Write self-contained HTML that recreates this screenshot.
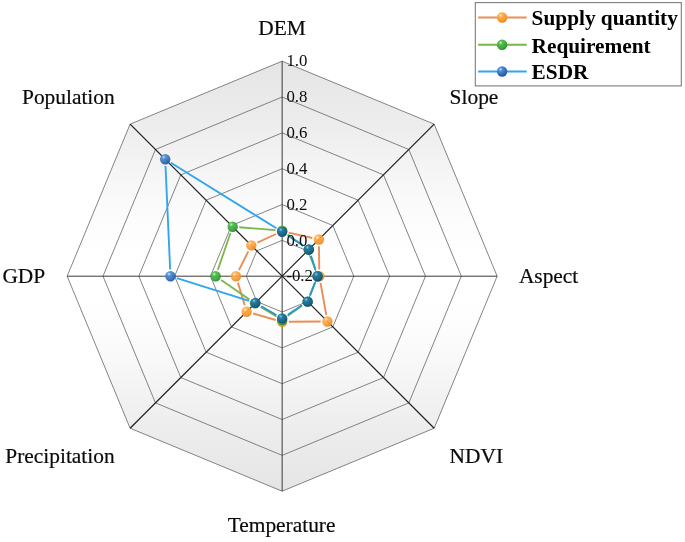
<!DOCTYPE html>
<html><head><meta charset="utf-8"><title>Radar chart</title>
<style>
html,body{margin:0;padding:0;background:#fff;}
body{width:685px;height:542px;overflow:hidden;}
svg{display:block;}
text{font-family:"Liberation Serif",serif;fill:#0a0a0a;}
.lab{font-size:21.4px;stroke:#0a0a0a;stroke-width:0.2px;}
.tick{font-size:16.8px;}
.leg{font-size:21.3px;font-weight:bold;fill:#000;}
</style></head><body>
<svg width="685" height="542" viewBox="0 0 685 542">
<defs>
<linearGradient id="bg" x1="0" y1="0" x2="0" y2="1">
<stop offset="0.0000" stop-color="#e5e5e5"/>
<stop offset="0.1500" stop-color="#ededed"/>
<stop offset="0.2435" stop-color="#f4f4f4"/>
<stop offset="0.3270" stop-color="#fafafa"/>
<stop offset="0.3690" stop-color="#fcfcfc"/>
<stop offset="0.4200" stop-color="#fefefe"/>
<stop offset="0.4600" stop-color="#ffffff"/>
<stop offset="0.5400" stop-color="#ffffff"/>
<stop offset="0.5800" stop-color="#fefefe"/>
<stop offset="0.6310" stop-color="#fcfcfc"/>
<stop offset="0.6730" stop-color="#fafafa"/>
<stop offset="0.7565" stop-color="#f4f4f4"/>
<stop offset="0.8500" stop-color="#ededed"/>
<stop offset="1.0000" stop-color="#e5e5e5"/>
</linearGradient>
<radialGradient id="bo" cx="0.36" cy="0.30" r="0.72">
<stop offset="0" stop-color="#fff0d6"/><stop offset="0.25" stop-color="#ffae4c"/><stop offset="0.8" stop-color="#f7932a"/><stop offset="1" stop-color="#e8841f"/>
</radialGradient>
<radialGradient id="bgr" cx="0.36" cy="0.30" r="0.72">
<stop offset="0" stop-color="#d4f5cc"/><stop offset="0.25" stop-color="#55be4f"/><stop offset="0.8" stop-color="#35a238"/><stop offset="1" stop-color="#278a2b"/>
</radialGradient>
<radialGradient id="bb" cx="0.36" cy="0.30" r="0.72">
<stop offset="0" stop-color="#cfe4fa"/><stop offset="0.25" stop-color="#4f8dd2"/><stop offset="0.8" stop-color="#2b66b0"/><stop offset="1" stop-color="#1f5296"/>
</radialGradient>
<radialGradient id="bd" cx="0.36" cy="0.30" r="0.72">
<stop offset="0" stop-color="#8fc8ea"/><stop offset="0.25" stop-color="#2477a8"/><stop offset="0.8" stop-color="#155a86"/><stop offset="1" stop-color="#0f4a70"/>
</radialGradient>
</defs>
<rect width="685" height="542" fill="#fff"/>

<polygon points="282.15,61.20 434.18,124.17 497.15,276.20 434.18,428.23 282.15,491.20 130.12,428.23 67.15,276.20 130.12,124.17" fill="url(#bg)" stroke="none"/>
<polygon points="282.15,240.37 307.49,250.86 317.98,276.20 307.49,301.54 282.15,312.03 256.81,301.54 246.32,276.20 256.81,250.86" fill="none" stroke="#5c5c5c" stroke-width="0.75"/>
<polygon points="282.15,204.53 332.83,225.52 353.82,276.20 332.83,326.88 282.15,347.87 231.47,326.88 210.48,276.20 231.47,225.52" fill="none" stroke="#5c5c5c" stroke-width="0.75"/>
<polygon points="282.15,168.70 358.16,200.19 389.65,276.20 358.16,352.21 282.15,383.70 206.14,352.21 174.65,276.20 206.14,200.19" fill="none" stroke="#5c5c5c" stroke-width="0.75"/>
<polygon points="282.15,132.87 383.50,174.85 425.48,276.20 383.50,377.55 282.15,419.53 180.80,377.55 138.82,276.20 180.80,174.85" fill="none" stroke="#5c5c5c" stroke-width="0.75"/>
<polygon points="282.15,97.03 408.84,149.51 461.32,276.20 408.84,402.89 282.15,455.37 155.46,402.89 102.98,276.20 155.46,149.51" fill="none" stroke="#5c5c5c" stroke-width="0.75"/>
<polygon points="282.15,61.20 434.18,124.17 497.15,276.20 434.18,428.23 282.15,491.20 130.12,428.23 67.15,276.20 130.12,124.17" fill="none" stroke="#5c5c5c" stroke-width="0.75"/>
<line x1="282.15" y1="276.20" x2="282.15" y2="61.20" stroke="#3a3a3a" stroke-width="1.0"/>
<line x1="282.15" y1="276.20" x2="434.18" y2="124.17" stroke="#1e1e1e" stroke-width="1.2"/>
<line x1="282.15" y1="276.20" x2="497.15" y2="276.20" stroke="#3a3a3a" stroke-width="1.0"/>
<line x1="282.15" y1="276.20" x2="434.18" y2="428.23" stroke="#1e1e1e" stroke-width="1.2"/>
<line x1="282.15" y1="276.20" x2="282.15" y2="491.20" stroke="#3a3a3a" stroke-width="1.0"/>
<line x1="282.15" y1="276.20" x2="130.12" y2="428.23" stroke="#1e1e1e" stroke-width="1.2"/>
<line x1="282.15" y1="276.20" x2="67.15" y2="276.20" stroke="#3a3a3a" stroke-width="1.0"/>
<line x1="282.15" y1="276.20" x2="130.12" y2="124.17" stroke="#1e1e1e" stroke-width="1.2"/>
<line x1="288.68" y1="232.68" x2="312.31" y2="238.02" stroke="#ea8e55" stroke-width="1.9"/>
<line x1="318.94" y1="246.20" x2="319.26" y2="269.50" stroke="#ea8e55" stroke-width="1.9"/>
<line x1="320.52" y1="282.80" x2="326.23" y2="314.86" stroke="#ea8e55" stroke-width="1.9"/>
<line x1="320.71" y1="321.51" x2="288.85" y2="321.75" stroke="#ea8e55" stroke-width="1.9"/>
<line x1="275.71" y1="319.97" x2="253.10" y2="313.53" stroke="#ea8e55" stroke-width="1.9"/>
<line x1="244.72" y1="305.28" x2="237.88" y2="282.61" stroke="#ea8e55" stroke-width="1.9"/>
<line x1="238.94" y1="270.20" x2="248.33" y2="251.37" stroke="#ea8e55" stroke-width="1.9"/>
<line x1="257.41" y1="242.57" x2="276.06" y2="234.00" stroke="#ea8e55" stroke-width="1.9"/>
<circle cx="282.15" cy="231.20" r="5.2" fill="url(#bo)" fill-opacity="0.92"/>
<circle cx="318.85" cy="239.50" r="5.2" fill="url(#bo)" fill-opacity="0.92"/>
<circle cx="319.35" cy="276.20" r="5.2" fill="url(#bo)" fill-opacity="0.92"/>
<circle cx="327.40" cy="321.45" r="5.2" fill="url(#bo)" fill-opacity="0.92"/>
<circle cx="282.15" cy="321.80" r="5.2" fill="url(#bo)" fill-opacity="0.92"/>
<circle cx="246.65" cy="311.70" r="5.2" fill="url(#bo)" fill-opacity="0.92"/>
<circle cx="235.95" cy="276.20" r="5.2" fill="url(#bo)" fill-opacity="0.92"/>
<circle cx="251.32" cy="245.37" r="5.2" fill="url(#bo)" fill-opacity="0.92"/>
<line x1="287.60" y1="234.60" x2="303.22" y2="245.78" stroke="#7ab648" stroke-width="1.8"/>
<line x1="310.79" y1="256.04" x2="315.42" y2="269.85" stroke="#7ab648" stroke-width="1.8"/>
<line x1="315.11" y1="282.44" x2="310.04" y2="295.42" stroke="#7ab648" stroke-width="1.8"/>
<line x1="302.17" y1="305.57" x2="287.59" y2="316.08" stroke="#7ab648" stroke-width="1.8"/>
<line x1="276.43" y1="316.52" x2="260.65" y2="306.91" stroke="#7ab648" stroke-width="1.8"/>
<line x1="249.42" y1="299.61" x2="221.16" y2="280.02" stroke="#7ab648" stroke-width="1.8"/>
<line x1="217.83" y1="269.86" x2="230.48" y2="233.04" stroke="#7ab648" stroke-width="1.8"/>
<line x1="239.33" y1="227.24" x2="275.47" y2="230.16" stroke="#7ab648" stroke-width="1.8"/>
<circle cx="282.15" cy="230.70" r="5.2" fill="url(#bgr)" fill-opacity="0.95"/>
<circle cx="308.67" cy="249.68" r="5.2" fill="url(#bgr)" fill-opacity="0.95"/>
<circle cx="317.55" cy="276.20" r="5.2" fill="url(#bgr)" fill-opacity="0.95"/>
<circle cx="307.61" cy="301.66" r="5.2" fill="url(#bgr)" fill-opacity="0.95"/>
<circle cx="282.15" cy="320.00" r="5.2" fill="url(#bgr)" fill-opacity="0.95"/>
<circle cx="254.93" cy="303.42" r="5.2" fill="url(#bgr)" fill-opacity="0.95"/>
<circle cx="215.65" cy="276.20" r="5.2" fill="url(#bgr)" fill-opacity="0.95"/>
<circle cx="232.65" cy="226.70" r="5.2" fill="url(#bgr)" fill-opacity="0.95"/>
<line x1="287.74" y1="235.50" x2="303.29" y2="245.78" stroke="#2298cc" stroke-width="1.85"/>
<line x1="310.95" y1="255.84" x2="315.48" y2="269.83" stroke="#2298cc" stroke-width="1.85"/>
<line x1="315.11" y1="282.44" x2="310.04" y2="295.42" stroke="#2298cc" stroke-width="1.85"/>
<line x1="302.01" y1="305.34" x2="287.75" y2="314.72" stroke="#2298cc" stroke-width="1.85"/>
<line x1="276.36" y1="315.03" x2="261.28" y2="306.23" stroke="#2298cc" stroke-width="1.85"/>
<line x1="249.10" y1="300.85" x2="176.84" y2="278.20" stroke="#2ea6ee" stroke-width="1.85"/>
<line x1="170.15" y1="269.51" x2="165.50" y2="165.94" stroke="#2ea6ee" stroke-width="1.85"/>
<line x1="170.89" y1="162.78" x2="276.46" y2="228.27" stroke="#2ea6ee" stroke-width="1.85"/>
<text class="tick" x="286.4" y="281.4">-0.2</text>
<text class="tick" x="286.4" y="245.6">0.0</text>
<text class="tick" x="286.4" y="209.7">0.2</text>
<text class="tick" x="286.4" y="173.9">0.4</text>
<text class="tick" x="286.4" y="138.1">0.6</text>
<text class="tick" x="286.4" y="102.2">0.8</text>
<text class="tick" x="286.4" y="66.4">1.0</text>
<circle cx="282.15" cy="231.80" r="5.2" fill="url(#bd)" fill-opacity="0.92"/>
<circle cx="308.88" cy="249.47" r="5.2" fill="url(#bd)" fill-opacity="0.92"/>
<circle cx="317.55" cy="276.20" r="5.2" fill="url(#bd)" fill-opacity="0.92"/>
<circle cx="307.61" cy="301.66" r="5.2" fill="url(#bd)" fill-opacity="0.92"/>
<circle cx="282.15" cy="318.40" r="5.2" fill="url(#bd)" fill-opacity="0.92"/>
<circle cx="255.49" cy="302.86" r="5.2" fill="url(#bd)" fill-opacity="0.92"/>
<circle cx="170.45" cy="276.20" r="5.2" fill="url(#bb)" fill-opacity="0.92"/>
<circle cx="165.19" cy="159.24" r="5.2" fill="url(#bb)" fill-opacity="0.92"/>
<text class="lab" x="258.3" y="35.0">DEM</text>
<text class="lab" x="449.6" y="104.0">Slope</text>
<text class="lab" x="518.9" y="282.7">Aspect</text>
<text class="lab" x="449.6" y="462.6">NDVI</text>
<text class="lab" x="227.7" y="531.8">Temperature</text>
<text class="lab" x="5.3" y="462.6">Precipitation</text>
<text class="lab" x="2.4" y="283.3">GDP</text>
<text class="lab" x="22.0" y="104.0">Population</text>
<rect x="475.3" y="2.6" width="206" height="83.3" fill="#fff" stroke="#7d7d7d" stroke-width="1.1"/>
<line x1="478.1" y1="17.5" x2="526.7" y2="17.5" stroke="#ea8e55" stroke-width="2.1"/>
<circle cx="502.1" cy="17.5" r="5.2" fill="url(#bo)"/>
<text class="leg" x="531.6" y="25.3">Supply quantity</text>
<line x1="478.1" y1="44.8" x2="526.7" y2="44.8" stroke="#7ab648" stroke-width="2.1"/>
<circle cx="502.1" cy="44.8" r="5.2" fill="url(#bgr)"/>
<text class="leg" x="531.6" y="52.6">Requirement</text>
<line x1="478.1" y1="71.5" x2="526.7" y2="71.5" stroke="#2ea6ee" stroke-width="2.1"/>
<circle cx="502.1" cy="71.5" r="5.2" fill="url(#bb)"/>
<text class="leg" x="531.6" y="79.3">ESDR</text>
</svg></body></html>
